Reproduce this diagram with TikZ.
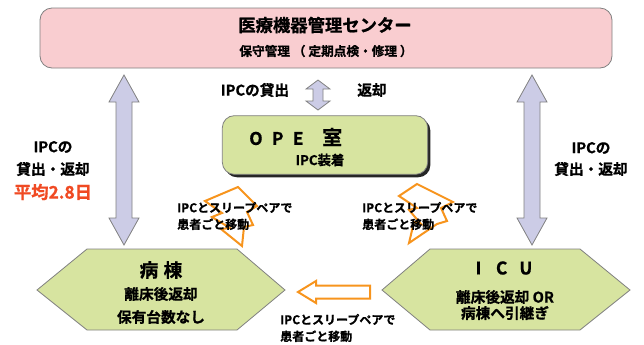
\documentclass[tikz,border=0pt]{standalone}
\usepackage{fontspec}
\setmainfont{Noto Sans CJK JP}[BoldFont={Noto Sans CJK JP Bold}, BoldFeatures={FakeBold=0.8}]
\usetikzlibrary{shadows}
\definecolor{pinkfill}{HTML}{F9CDD0}
\definecolor{greenfill}{HTML}{D7E4A0}
\definecolor{lavfill}{HTML}{CCCCE6}
\definecolor{edgegray}{HTML}{808080}
\definecolor{orangeline}{HTML}{F7941D}
\definecolor{redtext}{HTML}{F04A23}
\tikzset{
  boxtxt/.style={inner sep=0pt, font=\bfseries},
  lavarrow/.style={fill=lavfill, draw=edgegray, line width=0.6pt},
  hexshape/.style={fill=greenfill, draw=edgegray, line width=0.6pt},
  orangeshape/.style={draw=orangeline, fill=white, line width=1.5pt, line join=miter},
  movetxt/.style={inner sep=0pt, anchor=west, align=left, font=\bfseries\fontsize{9pt}{12.5pt}\selectfont}
}
\begin{document}
\begin{tikzpicture}[x=0.75pt,y=-0.75pt]
\useasboundingbox (0,0) rectangle (644,344);
% top box
\node[draw=edgegray, fill=pinkfill, rounded corners=9pt, line width=0.6pt,
      minimum width=429pt, minimum height=45pt, inner sep=0pt] (center) at (326,38) {};
\node[boxtxt, font=\bfseries\fontsize{13pt}{15pt}\selectfont] (centertitle) at (325,25) {医療機器管理センター};
\node[boxtxt, font=\bfseries\fontsize{9.5pt}{11pt}\selectfont] (centersub) at (326,51) {保守管理 （ 定期点検・修理 ）};
% OPE box
\node[draw=edgegray, fill=greenfill, rounded corners=9pt, line width=0.6pt,
      minimum width=154pt, minimum height=44pt, inner sep=0pt,
      drop shadow={shadow xshift=2pt, shadow yshift=-2.2pt, fill=black, opacity=0.85}] (ope) at (325,145) {};
\node[boxtxt, anchor=west, font=\bfseries\fontsize{13pt}{15pt}\selectfont] (opetitle) at (249,137) {O\hspace{7pt}P\hspace{7pt}E\hspace{14pt}{\fontsize{15pt}{15pt}\selectfont 室}};
\node[boxtxt, font=\bfseries\fontsize{10pt}{11pt}\selectfont] (opesub) at (320,160) {IPC装着};
% hexagons
\draw[hexshape] (37,290) -- (87,249) -- (237,249) -- (285,290) -- (237,330) -- (87,330) -- cycle;
\coordinate (ward) at (161,290);
\draw[hexshape] (382,290) -- (430,249) -- (580,249) -- (630,290) -- (580,330) -- (430,330) -- cycle;
\coordinate (icu) at (506,290);
\node[boxtxt, font=\bfseries\fontsize{14pt}{15pt}\selectfont] (wardtitle) at (161,270) {病\hspace{4pt}棟};
\node[boxtxt, font=\bfseries\fontsize{11pt}{13pt}\selectfont] (ward1) at (161,294) {離床後返却};
\node[boxtxt, font=\bfseries\fontsize{11pt}{13pt}\selectfont] (ward2) at (161,317) {保有台数なし};
\node[boxtxt, font=\bfseries\fontsize{13pt}{15pt}\selectfont] (icutitle) at (504,268) {I\hspace{11pt}C\hspace{9pt}U};
\node[boxtxt, font=\bfseries\fontsize{11pt}{13pt}\selectfont] (icu1) at (505,297) {離床後返却 OR};
\node[boxtxt, font=\bfseries\fontsize{11pt}{13pt}\selectfont] (icu2) at (505,313) {病棟へ引継ぎ};
% lavender double arrows
\draw[lavarrow] (124,75) -- (139,102) -- (132,102) -- (132,218) -- (139,218) -- (124,245)
  -- (109,218) -- (116,218) -- (116,102) -- (109,102) -- cycle;
\draw[lavarrow] (532,75) -- (547,102) -- (540,102) -- (540,218) -- (547,218) -- (532,245)
  -- (517,218) -- (524,218) -- (524,102) -- (517,102) -- cycle;
\draw[lavarrow] (318,80) -- (330,89) -- (323,89) -- (323,101) -- (330,101) -- (318,110)
  -- (306,101) -- (313,101) -- (313,89) -- (306,89) -- cycle;
% side texts
\node[boxtxt, font=\bfseries\fontsize{11pt}{12pt}\selectfont] (l1) at (53,147) {IPCの};
\node[boxtxt, font=\bfseries\fontsize{11pt}{12pt}\selectfont] (l2) at (53,169) {貸出・返却};
\node[boxtxt, text=redtext, font=\bfseries\fontsize{13pt}{15pt}\selectfont] (l3) at (53,192) {平均2.8日};
\node[boxtxt, font=\bfseries\fontsize{11pt}{12pt}\selectfont] (r1) at (591,148) {IPCの};
\node[boxtxt, font=\bfseries\fontsize{11pt}{12pt}\selectfont] (r2) at (591,169) {貸出・返却};
\node[boxtxt, font=\bfseries\fontsize{11pt}{12pt}\selectfont] (m1) at (255,90) {IPCの貸出};
\node[boxtxt, font=\bfseries\fontsize{11pt}{12pt}\selectfont] (m2) at (372,90) {返却};
% orange bolt arrows
\draw[orangeshape] (238,187) -- (257,206) -- (247,212) -- (253,225) -- (244,227) -- (242,246)
  -- (221,229) -- (230,228) -- (212,217) -- (222,213) -- (205,201) -- cycle;
\draw[orangeshape] (417,184) -- (453,202) -- (441,208) -- (447,221) -- (437,224) -- (409,243)
  -- (414,222) -- (421,224) -- (409,210) -- (417,208) -- (399,196) -- cycle;
\draw[orangeshape] (298,292) -- (316,281) -- (316,285.5) -- (370,285.5) -- (370,298.5)
  -- (316,298.5) -- (316,303) -- cycle;
% move texts
\node[movetxt] (t1) at (177,216) {IPCとスリープペアで\\患者ごと移動};
\node[movetxt] (t2) at (362,216) {IPCとスリープペアで\\患者ごと移動};
\node[movetxt] (t3) at (280,328) {IPCとスリープペアで\\患者ごと移動};
\end{tikzpicture}
\end{document}
